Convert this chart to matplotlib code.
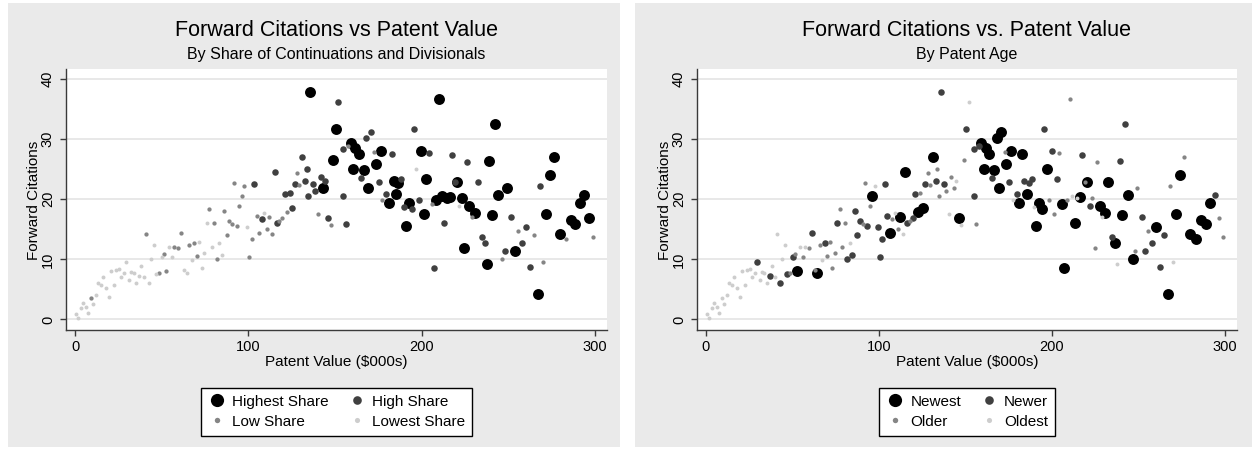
import numpy as np
import matplotlib.pyplot as plt
from matplotlib.lines import Line2D
from matplotlib.patches import Rectangle

plt.rcParams['font.family'] = ['Liberation Sans', 'DejaVu Sans']

# patent value ($000s) and forward citations, one entry per patent
value = [0.4, 1.9, 3.3, 4.8, 6.3, 7.7, 9.2, 10.6, 12.1, 13.5,
         14.8, 16.3, 17.9, 19.4, 20.8, 22.3, 23.7, 25.2, 26.5, 28.1,
         29.4, 31.0, 32.3, 33.8, 35.4, 36.9, 38.3, 39.6, 41.2, 42.5,
         44.0, 45.4, 46.9, 48.5, 50.0, 51.3, 52.7, 54.2, 55.8, 57.1,
         59.6, 61.3, 62.9, 64.4, 65.8, 67.3, 68.8, 70.2, 71.7, 73.1,
         74.4, 76.0, 77.3, 78.8, 80.2, 81.7, 83.1, 84.6, 86.2, 87.5,
         89.0, 90.6, 91.9, 93.3, 94.8, 96.2, 97.7, 99.2, 100.6, 101.9,
         103.3, 104.8, 106.3, 107.7, 109.2, 110.8, 112.1, 113.7, 115.2, 116.3,
         117.9, 119.4, 121.0, 122.3, 123.8, 125.4, 126.7, 128.1, 129.4, 131.2,
         132.7, 133.8, 134.6, 135.8, 137.4, 138.7, 140.3, 141.8, 143.1, 144.5,
         146.0, 147.4, 148.9, 150.5, 151.8, 154.8, 154.8, 156.3, 157.5, 159.0,
         160.5, 161.8, 163.6, 165.1, 166.7, 168.1, 169.2, 170.7, 172.6, 173.6,
         175.1, 176.5, 177.3, 179.6, 181.1, 182.7, 184.0, 185.3, 186.5, 188.2,
         189.8, 190.9, 192.5, 194.2, 195.5, 196.9, 198.4, 199.8, 201.3, 202.7,
         204.2, 205.8, 206.9, 208.4, 210.2, 211.5, 213.0, 214.6, 216.2, 217.3,
         219.1, 220.2, 221.8, 223.1, 224.6, 226.2, 227.5, 229.1, 230.6, 232.5,
         234.9, 236.4, 237.8, 239.1, 240.5, 242.2, 244.1, 246.6, 247.9, 249.3,
         251.8, 253.7, 255.3, 257.8, 260.3, 262.4, 264.7, 266.9, 268.4, 269.8,
         271.9, 274.2, 276.5, 280.0, 283.3, 286.0, 288.7, 291.5, 293.9, 296.7,
         298.8]

cites = [0.9, 0.2, 1.9, 2.7, 2.0, 1.0, 3.6, 2.5, 4.0, 6.0,
         5.7, 7.0, 5.3, 3.7, 8.0, 5.7, 8.3, 8.4, 7.1, 7.8,
         9.5, 6.5, 7.9, 7.7, 6.1, 7.2, 8.9, 7.1, 14.2, 6.1,
         10.1, 12.4, 7.5, 7.8, 10.4, 10.9, 8.1, 12.0, 10.4, 12.1,
         11.9, 14.4, 8.2, 7.8, 12.4, 9.9, 12.7, 10.5, 12.9, 8.5,
         11.0, 16.0, 18.3, 12.0, 16.0, 10.1, 12.8, 10.7, 18.0, 14.1,
         16.4, 15.8, 22.7, 15.5, 18.9, 20.5, 22.2, 15.4, 10.4, 13.4,
         22.5, 17.2, 14.4, 16.7, 17.7, 15.0, 17.0, 14.2, 24.5, 16.1,
         16.3, 16.8, 20.9, 17.8, 21.1, 18.5, 22.5, 24.4, 22.4, 27.0,
         23.1, 25.1, 20.5, 37.9, 22.5, 21.3, 17.5, 23.7, 21.9, 23.1,
         16.9, 15.7, 26.6, 31.6, 36.1, 28.3, 20.5, 15.9, 28.9, 29.4,
         25.1, 28.6, 27.6, 23.5, 24.9, 30.2, 21.8, 31.2, 27.8, 25.8,
         22.8, 28.0, 19.9, 20.9, 19.4, 27.6, 23.0, 20.8, 22.7, 23.4,
         18.7, 15.5, 19.3, 18.4, 31.6, 25.1, 19.8, 28.0, 17.5, 23.3,
         27.7, 19.2, 8.6, 19.8, 36.7, 20.6, 16.1, 20.2, 20.3, 27.3,
         22.9, 22.8, 18.9, 20.2, 11.9, 26.2, 18.8, 17.1, 17.7, 22.9,
         13.7, 12.7, 9.2, 26.3, 17.3, 32.5, 20.7, 10.1, 11.4, 21.9,
         17.1, 11.4, 14.7, 12.7, 15.4, 8.8, 14.1, 4.2, 22.2, 9.5,
         17.6, 24.0, 27.0, 14.2, 13.4, 16.5, 15.9, 19.3, 20.7, 16.9,
         13.7]

# share of continuations/divisionals quartile: 1 = highest ... 4 = lowest
share_tier = [int(c) for c in (
    "4444443444" "4444444444" "4444444434" "4443433443" "3344343344"
    "4434334433" "3333333433" "2332433322" "3323222332" "2221223212"
    "2311222231" "1112121231" "2132121112" "2112242111" "2321112112"
    "2141121312" "2211111321" "2132223123" "1111311111" "3")]

# patent age quartile: 1 = newest ... 4 = oldest
age_tier = [int(c) for c in (
    "4444444444" "4444444444" "2444424442" "4423231434" "3231342333"
    "3233324222" "2332314222" "2213431412" "3221312331" "2332234334"
    "1432422321" "1112111131" "2142112122" "4111213232" "3113341412"
    "3123331411" "2142121133" "2232122134" "1131111123" "3")]

share_names = ['Highest Share', 'High Share', 'Low Share', 'Lowest Share']
age_names = ['Newest', 'Newer', 'Older', 'Oldest']

tier_color = {1: '#000000', 2: '#404040', 3: '#858585', 4: '#cdcdcd'}
tier_size = {1: 62, 2: 22, 3: 9.5, 4: 8}
legend_ms = {1: 9.5, 2: 6.2, 3: 3.9, 4: 3.7}

W, H = 1255, 450
fig = plt.figure(figsize=(W / 100, H / 100), dpi=100)
fig.patch.set_facecolor('white')

x = np.array(value)
y = np.array(cites)


def fx(px):
    return px / W


def fy(py):
    return 1 - py / H


def draw_panel(left, right, bg_left, bg_right, tiers, names, title, subtitle):
    fig.add_artist(Rectangle((fx(bg_left), fy(447)), (bg_right - bg_left) / W, 444 / H,
                             transform=fig.transFigure, facecolor='#eaeaea',
                             edgecolor='none', zorder=-1))
    ax = fig.add_axes([fx(left), fy(330), (right - left) / W, 261 / H])
    ax.set_facecolor('white')
    tiers = np.array(tiers)
    for t in (1, 2, 3, 4):
        m = tiers == t
        ax.scatter(x[m], y[m], s=tier_size[t], c=tier_color[t],
                   linewidths=0, zorder=2 + t)

    ax.set_xlim(-5.2, 306.9)
    ax.set_ylim(-1.75, 41.66)
    ax.set_xticks([0, 100, 200, 300])
    ax.set_yticks([0, 10, 20, 30, 40])
    ax.grid(axis='y', color='#e6e6e6', lw=1.3, zorder=0)
    ax.set_axisbelow(True)
    for s in ('top', 'right'):
        ax.spines[s].set_visible(False)
    for s in ('left', 'bottom'):
        ax.spines[s].set_color('#3a3a3a')
        ax.spines[s].set_linewidth(1.0)
    ax.tick_params(direction='out', length=4, width=1, color='#3a3a3a',
                   labelsize=10.5, pad=3)
    ax.tick_params(axis='y', pad=4)
    plt.setp(ax.get_yticklabels(), rotation=90, va='center')

    cx = fx((left + right) / 2)
    fig.text(cx, fy(30), title, ha='center', va='center', fontsize=15.5)
    fig.text(cx, fy(55), subtitle, ha='center', va='center', fontsize=11.5)
    fig.text(cx, fy(362), 'Patent Value ($000s)', ha='center', va='center',
             fontsize=11)
    fig.text(fx(left - 32), fy(200), 'Forward Citations', ha='center',
             va='center', rotation=90, fontsize=11)

    handles = [Line2D([], [], ls='none', marker='o', ms=legend_ms[t],
                      mfc=tier_color[t], mec='none') for t in (1, 2, 3, 4)]
    # matplotlib fills legend columns first, so reorder to read across rows
    order = [0, 2, 1, 3]
    leg = ax.legend([handles[i] for i in order], [names[i] for i in order],
                    ncol=2, loc='upper center', bbox_to_anchor=(cx, fy(380)),
                    bbox_transform=fig.transFigure, fontsize=11,
                    frameon=True, fancybox=False, edgecolor='black',
                    framealpha=1, borderpad=0.45, labelspacing=0.4,
                    handletextpad=0.4, columnspacing=1.2, handlelength=1.2)
    leg.get_frame().set_linewidth(1.0)
    return ax


draw_panel(66, 607, 8, 620, share_tier, share_names,
           'Forward Citations vs Patent Value',
           'By Share of Continuations and Divisionals')
draw_panel(697, 1237, 635, 1252, age_tier, age_names,
           'Forward Citations vs. Patent Value',
           'By Patent Age')

fig.savefig('out.png', dpi=100)
